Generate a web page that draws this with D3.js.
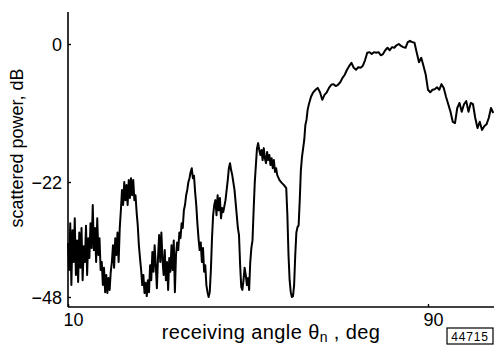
<!DOCTYPE html>
<html>
<head>
<meta charset="utf-8">
<script src="https://cdn.jsdelivr.net/npm/d3@7"></script>
<style>
  html, body { margin: 0; padding: 0; background: #fff; }
  svg { display: block; }
  text { font-family: "Liberation Sans", Arial, sans-serif; fill: #000; }
</style>
</head>
<body>
<svg id="chart" width="496" height="346"></svg>
<script>
// receiving angle, deg
const angle = [
  10.00,10.25,10.50,10.75,11.00,11.25,11.50,11.75,12.00,12.25,12.50,12.75,13.00,13.25,13.50,13.75,
  14.00,14.25,14.50,14.75,15.00,15.25,15.50,15.75,16.00,16.25,16.50,16.75,17.00,17.25,17.50,17.75,
  18.00,18.25,18.50,18.75,19.00,19.25,19.50,19.75,20.00,20.25,20.50,20.75,21.00,21.25,21.50,21.75,
  22.00,22.25,22.50,22.75,23.00,23.25,23.50,23.75,24.00,24.25,24.50,24.75,25.00,25.25,25.50,25.75,
  26.00,26.25,26.50,26.75,27.00,27.25,27.50,27.75,28.00,28.25,28.50,28.75,29.00,29.25,29.50,29.75,
  30.00,30.25,30.50,30.75,31.00,31.25,31.50,31.75,32.00,32.25,32.50,32.75,33.00,33.25,33.50,33.75,
  34.00,34.25,34.50,34.75,35.00,35.25,35.50,35.75,36.00,36.25,36.50,36.75,37.00,37.25,37.50,37.75,
  38.00,38.25,38.50,38.75,39.00,39.25,39.50,39.75,40.00,40.25,40.50,40.75,41.00,41.25,41.50,41.75,
  42.00,42.25,42.50,42.75,43.00,43.25,43.50,43.75,44.00,44.25,44.50,45.00,45.50,45.75,46.00,46.25,
  46.50,47.00,47.50,47.75,48.00,48.25,48.50,48.75,49.00,49.25,49.50,49.75,50.00,50.25,50.50,50.75,
  51.00,51.25,51.50,51.75,52.00,52.25,52.50,52.75,53.00,53.25,53.50,53.75,54.00,54.25,54.50,54.75,
  55.00,55.25,55.50,55.75,56.00,56.25,56.50,57.00,57.50,58.00,58.50,58.75,59.00,59.25,59.50,59.75,
  60.00,60.25,60.50,60.75,61.00,61.25,61.50,61.75,62.00,62.50,62.75,63.00,63.25,63.50,64.00,64.50,
  65.00,65.50,66.00,66.50,67.00,67.50,68.00,68.50,69.00,69.50,70.00,70.50,71.00,71.50,72.00,72.50,
  73.00,73.50,74.00,74.50,75.00,75.50,76.00,76.50,77.00,77.50,78.00,78.50,79.00,79.50,80.00,80.50,
  81.00,81.50,82.00,82.50,83.00,83.50,84.00,84.50,85.00,85.50,86.00,86.50,87.00,87.50,88.00,88.50,
  89.00,89.50,90.00,90.50,91.00,91.50,92.00,92.50,93.00,93.50,94.00,94.50,95.00,95.50,96.00,96.50,
  97.00,97.50,98.00,98.50,99.00,99.50,100.00,100.50,101.00,101.50,102.00,102.50,103.00,103.50,104.00,104.50
];
// scattered power, dB
const power = [
  -35.8,-41.9,-31.3,-45.3,-32.9,-40.1,-30.2,-43.0,-35.2,-44.6,-33.4,-41.4,-32.4,-44.2,-36.5,-40.1,
  -31.9,-43.0,-34.7,-39.2,-31.3,-36.9,-27.2,-37.4,-32.4,-40.1,-30.2,-38.5,-34.7,-41.9,-40.1,-45.3,
  -41.4,-46.9,-43.0,-47.1,-43.7,-46.4,-42.3,-40.1,-36.3,-41.4,-34.7,-38.5,-33.4,-40.1,-32.4,-28.4,
  -23.8,-27.2,-22.0,-26.1,-22.7,-27.2,-21.7,-25.6,-21.4,-25.0,-21.7,-26.1,-25.0,-28.8,-31.8,-36.3,
  -39.2,-41.9,-45.3,-43.0,-47.1,-44.8,-47.8,-44.2,-46.9,-40.8,-44.2,-37.8,-42.3,-36.3,-40.8,-46.0,
  -39.2,-34.0,-40.1,-33.4,-39.6,-43.0,-37.4,-44.2,-40.1,-46.4,-39.2,-42.3,-36.3,-41.9,-35.2,-46.9,
  -38.5,-35.7,-37.4,-33.4,-34.7,-31.3,-32.4,-28.4,-27.2,-25.0,-23.8,-22.0,-21.4,-20.4,-19.8,-21.4,
  -21.0,-24.3,-27.2,-31.3,-34.7,-37.4,-35.7,-40.1,-36.9,-42.3,-40.8,-45.3,-46.9,-48.0,-46.9,-41.9,
  -34.7,-29.5,-27.2,-26.1,-29.5,-25.0,-28.4,-25.6,-30.2,-27.9,-28.8,-26.1,-21.7,-19.8,-19.0,-20.1,
  -20.9,-23.8,-29.5,-32.4,-34.0,-40.8,-45.7,-46.4,-44.2,-41.4,-43.0,-45.3,-43.7,-46.4,-40.1,-36.9,
  -35.2,-28.4,-22.2,-19.3,-16.6,-15.8,-16.9,-17.7,-16.9,-18.5,-16.6,-18.2,-19.0,-17.2,-18.5,-17.7,
  -19.3,-18.2,-19.8,-18.5,-20.4,-19.8,-20.9,-21.7,-22.2,-22.7,-23.4,-29.5,-38.5,-44.2,-46.9,-48.0,
  -47.8,-45.3,-38.5,-33.4,-32.2,-31.8,-26.1,-20.1,-18.0,-15.3,-12.9,-12.1,-10.5,-9.7,-8.4,-7.7,
  -7.3,-7.0,-7.7,-8.9,-8.1,-7.7,-7.0,-6.5,-6.4,-6.7,-6.5,-6.1,-5.4,-4.9,-4.1,-3.5,
  -3.0,-3.8,-4.1,-3.7,-3.8,-3.5,-2.6,-1.4,-1.3,-1.6,-1.3,-1.4,-1.3,-1.8,-1.6,-1.0,
  -0.6,-1.0,-0.5,-0.6,-0.2,0.0,-0.3,-0.5,-0.6,0.3,0.5,0.3,0.2,-1.4,-2.9,-2.2,
  -3.5,-4.9,-7.3,-7.7,-7.3,-7.2,-6.9,-7.3,-6.4,-7.0,-8.4,-9.6,-10.8,-12.4,-12.6,-10.2,
  -9.4,-10.8,-9.6,-9.1,-10.8,-9.4,-9.6,-11.8,-13.4,-12.4,-13.7,-13.1,-12.8,-11.8,-10.2,-11.0
];
const xTicks = [10, 90];
const yTicks = [0, -22, -48];
const xTitle = "receiving angle ";
const yTitle = "scattered power, dB";
const figCode = "44715";

const svg = d3.select("#chart");
svg.append("rect").attr("width", 496).attr("height", 346).attr("fill", "#fff");

const x = d3.scaleLinear().domain([10, 90]).range([68, 428]);
// the printed ordinate is not uniform: piecewise-linear scale through the labelled ticks
const y = d3.scaleLinear().domain([0, -22, -48]).range([44, 182, 297]);

const axisX = 68, axisY = 307;

// axes lines
svg.append("line").attr("x1", axisX).attr("x2", axisX).attr("y1", 12).attr("y2", axisY)
  .attr("stroke", "#000").attr("stroke-width", 1.6);
svg.append("line").attr("x1", axisX).attr("x2", 494).attr("y1", axisY).attr("y2", axisY)
  .attr("stroke", "#000").attr("stroke-width", 1.6);

// y axis
const gy = svg.append("g").attr("transform", `translate(${axisX},0)`)
  .call(d3.axisLeft(y).tickValues(yTicks).tickSize(-3).tickPadding(6).tickFormat(d3.format("d")));
gy.select(".domain").remove();
gy.selectAll("line").attr("stroke", "#000").attr("stroke-width", 1.4);
gy.selectAll("text").style("font-size", "18px").attr("dy", "0.36em");

// x axis
const gx = svg.append("g").attr("transform", `translate(0,${axisY})`)
  .call(d3.axisBottom(x).tickValues(xTicks).tickSize(-3).tickPadding(6).tickFormat(d3.format("d")));
gx.select(".domain").remove();
gx.selectAll("line").attr("stroke", "#000").attr("stroke-width", 1.4);
gx.selectAll("text").style("font-size", "18px").attr("dx", "5").attr("dy", "0.7em");

// curve
const pts = angle.map((a, i) => [a, power[i]]);
svg.append("path").datum(pts)
  .attr("fill", "none").attr("stroke", "#000").attr("stroke-width", 2)
  .attr("stroke-linejoin", "round")
  .attr("d", d3.line().x(d => x(d[0])).y(d => y(d[1])));

// axis titles
const xt = svg.append("text").attr("x", 271).attr("y", 339).attr("text-anchor", "middle")
  .style("font-size", "20px").style("letter-spacing", "0.4px");
xt.append("tspan").text(xTitle + "θ");
xt.append("tspan").attr("dy", 3).style("font-size", "14px").text("n");
xt.append("tspan").attr("dy", -3).text(" , deg");

svg.append("text").attr("transform", "translate(23,148) rotate(-90)")
  .attr("text-anchor", "middle").style("font-size", "18px").text(yTitle);

// figure code box
svg.append("rect").attr("x", 447).attr("y", 328).attr("width", 46).attr("height", 16)
  .attr("fill", "none").attr("stroke", "#000").attr("stroke-width", 1.2);
svg.append("text").attr("x", 470).attr("y", 341).attr("text-anchor", "middle")
  .style("font-size", "12px").style("letter-spacing", "0.8px").text(figCode);
</script>
</body>
</html>
